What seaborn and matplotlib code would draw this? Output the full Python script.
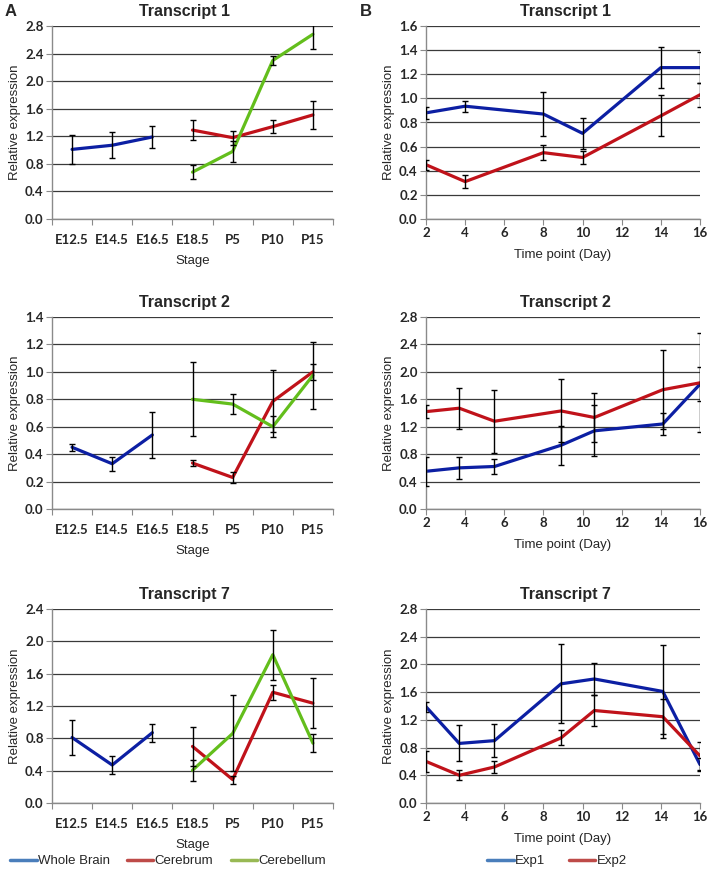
import numpy as np
import pandas as pd
import matplotlib
matplotlib.use("Agg")
import matplotlib.pyplot as plt
from matplotlib.lines import Line2D
import seaborn as sns

# ------------------------------------------------------------
# DATA
# ------------------------------------------------------------
stages = ["E12.5", "E14.5", "E16.5", "E18.5", "P5", "P10", "P15"]
tissues = ["Whole Brain", "Cerebrum", "Cerebellum"]
wb_idx = [0, 1, 2]
late_idx = [3, 4, 5, 6]

a_t1_wb = [1.01, 1.07, 1.19]
a_t1_wb_err = [0.21, 0.19, 0.16]
a_t1_cr = [1.29, 1.18, 1.34, 1.51]
a_t1_cr_err = [0.14, 0.10, 0.09, 0.20]
a_t1_cb = [0.68, 0.98, 2.30, 2.68]
a_t1_cb_err = [0.10, 0.15, 0.07, 0.22]

a_t2_wb = [0.45, 0.33, 0.54]
a_t2_wb_err = [0.025, 0.05, 0.17]
a_t2_cr = [0.335, 0.23, 0.785, 1.00]
a_t2_cr_err = [0.025, 0.04, 0.225, 0.06]
a_t2_cb = [0.80, 0.765, 0.60, 0.975]
a_t2_cb_err = [0.27, 0.07, 0.075, 0.245]

a_t7_wb = [0.81, 0.47, 0.87]
a_t7_wb_err = [0.22, 0.11, 0.11]
a_t7_cr = [0.70, 0.29, 1.37, 1.235]
a_t7_cr_err = [0.24, 0.05, 0.09, 0.31]
a_t7_cb = [0.405, 0.86, 1.835, 0.74]
a_t7_cb_err = [0.13, 0.47, 0.31, 0.115]

exps = ["Exp1", "Exp2"]
b_t1_days = [2, 4, 8, 10, 14, 16]
b_t1_exp1 = [0.88, 0.935, 0.87, 0.71, 1.255, 1.255]
b_t1_exp1_err = [0.05, 0.045, 0.18, 0.13, 0.17, 0.13]
b_t1_exp2 = [0.45, 0.31, 0.55, 0.51, 0.855, 1.03]
b_t1_exp2_err = [0.04, 0.055, 0.06, 0.05, 0.17, 0.10]

b_days = [2, 3.7, 5.5, 8.9, 10.6, 14.1, 16]
b_t2_exp1 = [0.55, 0.60, 0.62, 0.93, 1.14, 1.24, 1.82]
b_t2_exp1_err = [0.21, 0.16, 0.11, 0.285, 0.37, 0.16, 0.25]
b_t2_exp2 = [1.42, 1.47, 1.28, 1.43, 1.335, 1.74, 1.84]
b_t2_exp2_err = [0.095, 0.30, 0.46, 0.46, 0.355, 0.58, 0.72]

b_t7_exp1 = [1.39, 0.86, 0.90, 1.72, 1.79, 1.61, 0.555]
b_t7_exp1_err = [0.07, 0.26, 0.24, 0.57, 0.23, 0.67, 0.10]
b_t7_exp2 = [0.60, 0.40, 0.52, 0.94, 1.335, 1.245, 0.68]
b_t7_exp2_err = [0.15, 0.075, 0.09, 0.11, 0.22, 0.25, 0.20]

# ------------------------------------------------------------
# STYLE
# ------------------------------------------------------------
sns.set_theme(style="white")
plt.rcParams['font.family'] = ['Liberation Sans', 'DejaVu Sans']

BLUE, RED, GREEN = "#0C1FA3", "#C0121A", "#63BE1C"
LEG_BLUE, LEG_RED, LEG_GREEN = "#4A7EBB", "#BE4B48", "#98B954"
TICK_FONT = dict(family="Lato", weight="bold", size=9.5)

W, H = 709, 871
fig = plt.figure(figsize=(W / 100, H / 100), dpi=100)


def px_axes(left, top, right, bottom):
    return fig.add_axes([left / W, 1 - bottom / H, (right - left) / W, (bottom - top) / H])


def draw_panel(ax, series, ymax, ystep, title, title_x):
    rows = []
    for name, xs, ys, _, _ in series:
        for x, y in zip(xs, ys):
            rows.append({"x": x, "value": y, "series": name})
    df = pd.DataFrame(rows)
    palette = {name: color for name, _, _, _, color in series}
    sns.lineplot(data=df, x="x", y="value", hue="series", palette=palette,
                 linewidth=2.3, errorbar=None, sort=False, legend=False, ax=ax, zorder=2)
    for name, xs, ys, es, _ in series:
        ax.errorbar(xs, ys, yerr=es, fmt="none", ecolor="black", elinewidth=1.0,
                    capsize=2.5, capthick=1.0, zorder=3)

    ax.set_ylim(0, ymax)
    yt = np.arange(0, ymax + 1e-9, ystep)
    ax.set_yticks(yt)
    ax.set_yticklabels([f"{v:.1f}" for v in yt], **TICK_FONT)
    ax.yaxis.grid(True, color="#3a3a3a", linewidth=0.9)
    ax.xaxis.grid(False)
    ax.set_axisbelow(True)
    for s in ["top", "right"]:
        ax.spines[s].set_visible(False)
    for s in ["left", "bottom"]:
        ax.spines[s].set_color("#8a8a8a")
        ax.spines[s].set_linewidth(1.0)
    ax.tick_params(axis="y", which="major", direction="out", length=4, width=0.8,
                   color="#8a8a8a", pad=2, left=True)
    ax.set_ylabel("Relative expression", fontsize=9.5, labelpad=3)
    ax.set_title(title, fontsize=11.5, fontweight="bold", pad=7, x=title_x)


a_data = [
    ("Transcript 1", 2.8, 0.4, (a_t1_wb, a_t1_wb_err), (a_t1_cr, a_t1_cr_err), (a_t1_cb, a_t1_cb_err)),
    ("Transcript 2", 1.4, 0.2, (a_t2_wb, a_t2_wb_err), (a_t2_cr, a_t2_cr_err), (a_t2_cb, a_t2_cb_err)),
    ("Transcript 7", 2.4, 0.4, (a_t7_wb, a_t7_wb_err), (a_t7_cr, a_t7_cr_err), (a_t7_cb, a_t7_cb_err)),
]
b_data = [
    ("Transcript 1", 1.6, 0.2, b_t1_days, (b_t1_exp1, b_t1_exp1_err), (b_t1_exp2, b_t1_exp2_err)),
    ("Transcript 2", 2.8, 0.4, b_days, (b_t2_exp1, b_t2_exp1_err), (b_t2_exp2, b_t2_exp2_err)),
    ("Transcript 7", 2.8, 0.4, b_days, (b_t7_exp1, b_t7_exp1_err), (b_t7_exp2, b_t7_exp2_err)),
]
rows_px = [(26, 219), (317, 509), (609, 803)]

# PANEL A: developmental stages (category axis, ticks between categories)
for (title, ymax, ystep, wb, cr, cb), (top, bottom) in zip(a_data, rows_px):
    ax = px_axes(52, top, 333, bottom)
    series = [
        (tissues[0], wb_idx, wb[0], wb[1], BLUE),
        (tissues[1], late_idx, cr[0], cr[1], RED),
        (tissues[2], late_idx, cb[0], cb[1], GREEN),
    ]
    draw_panel(ax, series, ymax, ystep, title, 0.47)
    ax.set_xlim(-0.5, 6.5)
    ax.set_xticks(np.arange(-0.5, 7, 1))
    ax.set_xticklabels([])
    ax.set_xticks(range(len(stages)), minor=True)
    ax.set_xticklabels(stages, minor=True, **TICK_FONT)
    ax.tick_params(axis="x", which="major", direction="out", length=4, width=0.8,
                   color="#8a8a8a", bottom=True)
    ax.tick_params(axis="x", which="minor", length=0, pad=11, bottom=True)
    ax.set_xlabel("Stage", fontsize=9.5, labelpad=6)

# PANEL B: time course
for (title, ymax, ystep, days, e1, e2), (top, bottom) in zip(b_data, rows_px):
    ax = px_axes(426, top, 700, bottom)
    series = [
        (exps[0], days, e1[0], e1[1], BLUE),
        (exps[1], days, e2[0], e2[1], RED),
    ]
    draw_panel(ax, series, ymax, ystep, title, 0.51)
    ax.set_xlim(2, 16)
    xt = np.arange(2, 17, 2)
    ax.set_xticks(xt)
    ax.set_xticklabels([str(v) for v in xt], **TICK_FONT)
    ax.tick_params(axis="x", which="major", direction="out", length=4, width=0.8,
                   color="#8a8a8a", pad=2, bottom=True)
    ax.set_xlabel("Time point (Day)", fontsize=9.5, labelpad=7)

fig.text(5 / W, 1 - 12 / H, "A", fontsize=12, fontweight="bold", va="center")
fig.text(360 / W, 1 - 12 / H, "B", fontsize=12, fontweight="bold", va="center")

# legends
a_handles = [Line2D([0], [0], color=c, lw=2.5) for c in (LEG_BLUE, LEG_RED, LEG_GREEN)]
fig.legend(a_handles, tissues, loc="center", bbox_to_anchor=(168 / W, 1 - 861 / H), ncol=3,
           frameon=False, fontsize=9.5, handlelength=2.0, handletextpad=0.1, columnspacing=1.3)
b_handles = [Line2D([0], [0], color=c, lw=2.5) for c in (LEG_BLUE, LEG_RED)]
fig.legend(b_handles, exps, loc="center", bbox_to_anchor=(557 / W, 1 - 861 / H), ncol=2,
           frameon=False, fontsize=9.5, handlelength=2.0, handletextpad=0.1, columnspacing=1.8)

fig.savefig("out.png", dpi=100)
